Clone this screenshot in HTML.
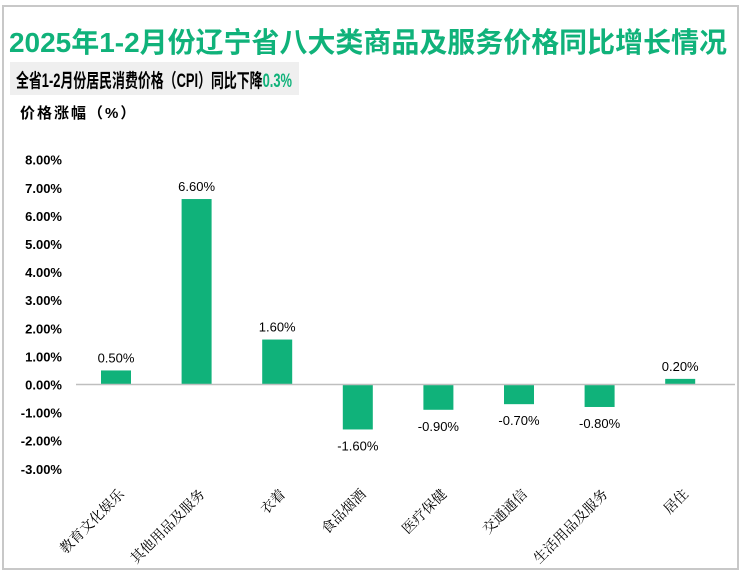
<!DOCTYPE html>
<html><head><meta charset="utf-8"><style>
body{margin:0;width:740px;height:572px;background:#fff;overflow:hidden;font-family:"Liberation Sans","Noto Sans CJK SC",sans-serif}
#frame{position:absolute;left:2px;top:5px;width:733px;height:561px;border:2px solid #c8c8c8}
#title{position:absolute;left:9px;top:21px;font-size:28px;font-weight:bold;color:#10b27a;white-space:nowrap;transform-origin:0 0}
#subbg{position:absolute;left:10px;top:62px;width:289px;height:33px;background:#efefef}
#sub{position:absolute;left:16px;top:66px;font-size:19px;font-weight:bold;white-space:nowrap;transform-origin:0 0}
#ytitle{position:absolute;left:20px;top:102px;font-size:15px;font-weight:bold;letter-spacing:2px}
</style></head><body>
<div id="frame"></div>
<div id="title">2025年1-2月份辽宁省八大类商品及服务价格同比增长情况</div>
<div id="subbg"></div>
<div id="sub">全省1-2月份居民消费价格（CPI）同比下降<span style="color:#10b27a">0.3%</span></div>
<div id="ytitle">价格涨幅（%）</div>
<svg id="chart" width="740" height="572" style="position:absolute;left:0;top:0"></svg>
<script>
const categories=["教育文化娱乐","其他用品及服务","衣着","食品烟酒","医疗保健","交通通信","生活用品及服务","居住"];
const values=[0.5,6.6,1.6,-1.6,-0.9,-0.7,-0.8,0.2];
const ticks=[8,7,6,5,4,3,2,1,0,-1,-2,-3];
function fit(id,w){const e=document.getElementById(id);e.style.transform='scaleX('+(w/e.getBoundingClientRect().width)+')';}
fit('title',718);fit('sub',276);
const NS="http://www.w3.org/2000/svg";
const svg=document.getElementById('chart');
const y=v=>384.5-v*28.1;
const xc=i=>116+i*80.6;
function mk(t,a){const e=document.createElementNS(NS,t);for(const k in a)e.setAttribute(k,a[k]);svg.appendChild(e);return e;}
ticks.forEach(t=>{const e=mk('text',{x:62,y:y(t)+5,'text-anchor':'end','font-size':13,'font-weight':'bold','font-family':'Liberation Sans'});e.textContent=t.toFixed(2)+'%';

});
values.forEach((v,i)=>{
const top=Math.min(y(v),y(0)),h=Math.abs(y(v)-y(0));
const r=mk('rect',{x:xc(i)-15,y:top,width:30,height:h,fill:'#10b27a'});


const ly=v>=0?y(v)-8:y(v)+21;
const l=mk('text',{x:xc(i),y:ly,'text-anchor':'middle','font-size':13,'font-family':'Liberation Sans'});
l.textContent=v.toFixed(2)+'%';


const c=mk('text',{x:0,y:0,'text-anchor':'end','font-size':14,'font-family':'"Noto Serif CJK SC",serif',transform:`translate(${xc(i)+9},${495}) rotate(-45)`});
c.textContent=categories[i];


});
const ax=mk('line',{x1:76,x2:735,y1:y(0),y2:y(0),stroke:'#bfbfbf','stroke-width':1.5});


</script>
</body></html>
